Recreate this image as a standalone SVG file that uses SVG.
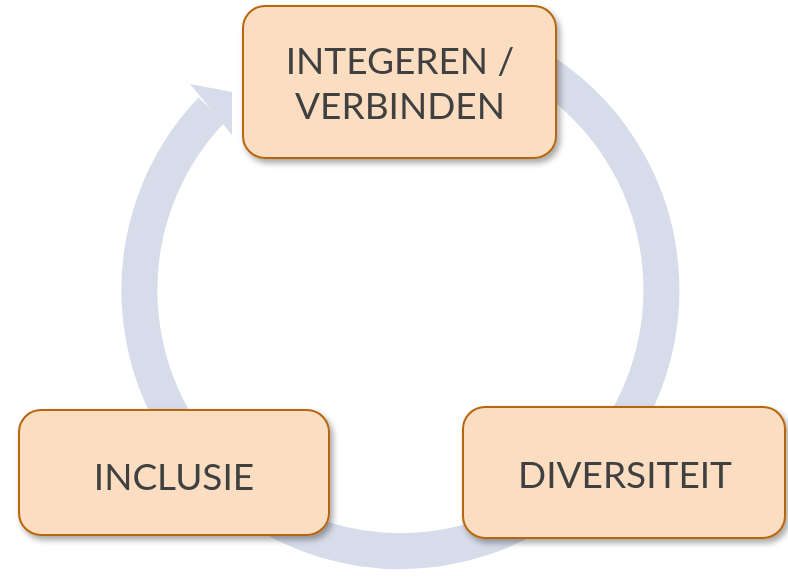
<svg xmlns="http://www.w3.org/2000/svg" width="788" height="577" viewBox="0 0 788 577">
  <defs>
    <filter id="shadow" x="-10%" y="-10%" width="125%" height="130%">
      <feGaussianBlur in="SourceAlpha" stdDeviation="3"/>
      <feOffset dx="3" dy="4" result="b"/>
      <feComponentTransfer><feFuncA type="linear" slope="0.35"/></feComponentTransfer>
      <feMerge><feMergeNode/><feMergeNode in="SourceGraphic"/></feMerge>
    </filter>
    <style>
      .box { fill: #FBDDC2; stroke: #B8660E; stroke-width: 2; }
      .label { font-family: Lato, "Open Sans", "Liberation Sans", sans-serif; font-size: 37px; fill: #404040; text-anchor: middle; }
      .ring { fill: none; stroke: #D6DCEA; stroke-width: 36; }
    </style>
  </defs>
  <rect width="788" height="577" fill="#FFFFFF"/>

  <!-- circular cycle arrow -->
  <g id="connectors">
    <path class="ring" d="M 445.3 33 A 261 261 0 1 1 211.5 110"/>
    <polygon points="190,84 232,92 232,135" fill="#D6DCEA"/>
  </g>

  <g id="node-integreren" filter="url(#shadow)">
    <rect class="box" x="243" y="6" width="313" height="152" rx="22"/>
    <text class="label" x="400" y="74">INTEGEREN /</text>
    <text class="label" x="400" y="119">VERBINDEN</text>
  </g>

  <g id="node-inclusie" filter="url(#shadow)">
    <rect class="box" x="19" y="410" width="310" height="125" rx="22"/>
    <text class="label" x="174" y="490">INCLUSIE</text>
  </g>

  <g id="node-diversiteit" filter="url(#shadow)">
    <rect class="box" x="463" y="407" width="322" height="131" rx="22"/>
    <text class="label" x="625" y="488">DIVERSITEIT</text>
  </g>
</svg>
